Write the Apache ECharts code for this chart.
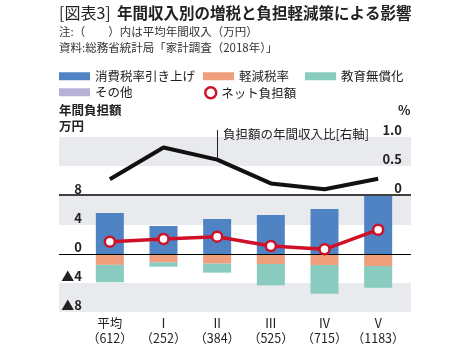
<!DOCTYPE html>
<html><head><meta charset="utf-8">
<script src="https://cdn.jsdelivr.net/npm/echarts@6/dist/echarts.min.js"></script>
<style>html,body{margin:0;padding:0;background:#fff}#c{width:473px;height:357px}</style>
</head><body><div id="c"></div>
<script>
var categories = ['平均\n（612）','Ⅰ\n（252）','Ⅱ\n（384）','Ⅲ\n（525）','Ⅳ\n（715）','Ⅴ\n（1183）'];
var taxHike = [5.66, 3.86, 4.83, 5.38, 6.2, 8.0];
var reducedRate = [-1.5, -1.15, -1.33, -1.38, -1.52, -1.66];
var freeEducation = [-2.4, -0.6, -1.24, -2.94, -3.96, -3.0];
var others = [0, 0, 0, 0, 0, 0];
var netBurden = [1.7, 2.07, 2.39, 1.1, 0.65, 3.35];
var ratioPct = [0.27, 0.82, 0.61, 0.20, 0.10, 0.28];
var leftTicks = [-8, -4, 0, 4, 8];
var rightTicks = [0, 0.5, 1.0];

var FONT = '"Noto Sans CJK JP","Noto Sans",sans-serif';
var C_BLUE = '#5083c4', C_ORANGE = '#f09f7c', C_TEAL = '#89cbbf', C_LAV = '#b7b1d7', C_RED = '#cf1027', C_BAND = '#e8eaed';

var chart = echarts.init(document.getElementById('c'));
function lg(name, left, top, extra) {
  var d = Object.assign({name: name}, extra || {});
  return {data: [d], left: left, top: top, padding: 0, itemWidth: 31, itemHeight: 8, icon: 'rect',
    textStyle: {fontFamily: FONT, fontSize: 12.5, color: '#222', padding: [0,0,0,0]}, itemGap: 0};
}
var option = {
  animation: false,
  textStyle: {fontFamily: FONT},
  legend: [
    lg('消費税率引き上げ', 59, 70),
    lg('軽減税率', 203, 70),
    lg('教育無償化', 305, 70),
    lg('その他', 59, 86),
    Object.assign(lg('ネット負担額', 204, 86, {icon: 'circle', itemStyle: {color: '#fff', borderColor: C_RED, borderWidth: 2.5}}), {itemWidth: 11, itemHeight: 11})
  ],
  grid: [
    {left: 59, width: 352, top: 196, height: 116},
    {left: 59, width: 352, top: 137, height: 58},
    {left: 83, width: 322, top: 196, height: 116},
    {left: 83, width: 322, top: 137, height: 58}
  ],
  xAxis: [
    {gridIndex: 0, type: 'value', min: 0, max: 1, show: false},
    {gridIndex: 1, type: 'value', min: 0, max: 1, show: false},
    {gridIndex: 2, type: 'category', data: categories, axisLine: {show: false}, axisTick: {show: false}, z: 10,
      axisLabel: {interval: 0, hideOverlap: false, fontFamily: FONT, fontSize: 12.5, color: '#222', lineHeight: 15, margin: 4}},
    {gridIndex: 3, type: 'category', data: categories, show: false}
  ],
  yAxis: [
    {gridIndex: 0, type: 'value', min: -8, max: 8, show: false},
    {gridIndex: 1, type: 'value', min: 0, max: 1, show: false},
    {gridIndex: 2, type: 'value', min: leftTicks[0], max: leftTicks[leftTicks.length-1], interval: 4, z: 10,
      axisLine: {show: false}, axisTick: {show: false}, splitLine: {show: false},
      axisLabel: {showMinLabel: true, showMaxLabel: true, hideOverlap: false, fontFamily: FONT, fontSize: 13, fontWeight: 'bold', color: '#222', margin: 1, verticalAlign: 'bottom', lineHeight: 14,
        formatter: function (v) { return v < 0 ? '▲' + (-v) : String(v); }}},
    {gridIndex: 3, type: 'value', position: 'right', min: rightTicks[0], max: rightTicks[rightTicks.length-1], interval: 0.5, z: 10,
      axisLine: {show: false}, axisTick: {show: false}, splitLine: {show: false},
      axisLabel: {showMinLabel: true, showMaxLabel: true, hideOverlap: false, fontFamily: FONT, fontSize: 13, fontWeight: 'bold', color: '#222', margin: -3, align: 'right', verticalAlign: 'bottom', lineHeight: 14,
        formatter: function (v) { return v === 0 ? '0' : v.toFixed(1); }}}
  ],
  series: [
    {type: 'line', xAxisIndex: 0, yAxisIndex: 0, data: [[0, 0]], symbol: 'none', lineStyle: {width: 0}, silent: true, z: 0,
      markArea: {silent: true, itemStyle: {color: C_BAND}, data: [[{yAxis: 4}, {yAxis: 8}], [{yAxis: -8}, {yAxis: -4}]]}},
    {type: 'line', xAxisIndex: 1, yAxisIndex: 1, data: [[0, 0]], symbol: 'none', lineStyle: {width: 0}, silent: true, z: 0,
      markArea: {silent: true, itemStyle: {color: C_BAND}, data: [[{yAxis: 0.5}, {yAxis: 1.0}]]}},
    {name: '消費税率引き上げ', type: 'bar', xAxisIndex: 2, yAxisIndex: 2, stack: 'a', barWidth: 28, data: taxHike, itemStyle: {color: C_BLUE}},
    {name: '軽減税率', type: 'bar', xAxisIndex: 2, yAxisIndex: 2, stack: 'a', barWidth: 28, data: reducedRate, itemStyle: {color: C_ORANGE}},
    {name: '教育無償化', type: 'bar', xAxisIndex: 2, yAxisIndex: 2, stack: 'a', barWidth: 28, data: freeEducation, itemStyle: {color: C_TEAL}},
    {name: 'その他', type: 'bar', xAxisIndex: 2, yAxisIndex: 2, stack: 'a', barWidth: 28, data: others, itemStyle: {color: C_LAV}},
    {type: 'line', xAxisIndex: 0, yAxisIndex: 0, data: [[0, 0]], symbol: 'none', lineStyle: {width: 0}, silent: true, z: 5,
      markLine: {silent: true, symbol: 'none', label: {show: false}, lineStyle: {color: '#000', width: 1, type: 'solid'}, data: [{yAxis: 0}]}},
    {type: 'line', xAxisIndex: 1, yAxisIndex: 1, data: [[0, 0]], symbol: 'none', lineStyle: {width: 0}, silent: true, z: 5,
      markLine: {silent: true, symbol: 'none', label: {show: false}, lineStyle: {color: '#000', width: 1.5, type: 'solid'}, data: [{yAxis: 0}]}},
    {name: 'ネット負担額', type: 'line', xAxisIndex: 2, yAxisIndex: 2, data: netBurden, z: 6,
      lineStyle: {color: C_RED, width: 3.5}, symbol: 'circle', symbolSize: 10,
      itemStyle: {color: '#fff', borderColor: C_RED, borderWidth: 2.5}},
    {name: '負担額の年間収入比', type: 'line', xAxisIndex: 3, yAxisIndex: 3, data: ratioPct, z: 6,
      lineStyle: {color: '#111', width: 4}, symbol: 'none'}
  ],
  graphic: [
    {type: 'text', z: 100, left: 59, top: 5, style: {text: '[図表3]', font: 'normal 16px ' + FONT, fill: '#222'}},
    {type: 'text', z: 100, left: 117, top: 5, style: {text: '年間収入別の増税と負担軽減策による影響', font: 'bold 15.5px ' + FONT, fill: '#222'}},
    {type: 'text', z: 100, left: 59, top: 26, style: {text: '注:（　　）内は平均年間収入（万円）', font: 'normal 11.5px ' + FONT, fill: '#333'}},
    {type: 'text', z: 100, left: 59, top: 42, style: {text: '資料:総務省統計局「家計調査（2018年）」', font: 'normal 11.5px ' + FONT, fill: '#333'}},
    {type: 'text', z: 100, left: 59, top: 104, style: {text: '年間負担額', font: 'bold 12.5px ' + FONT, fill: '#222'}},
    {type: 'text', z: 100, left: 59, top: 120, style: {text: '万円', font: 'bold 12.5px ' + FONT, fill: '#222'}},
    {type: 'text', z: 100, left: 398, top: 104, style: {text: '%', font: 'bold 13px ' + FONT, fill: '#222'}},
    {type: 'text', z: 100, left: 223, top: 128, style: {text: '負担額の年間収入比[右軸]', font: 'normal 12.5px ' + FONT, fill: '#222'}},
    {type: 'line', z: 100, shape: {x1: 217.5, y1: 130, x2: 217.5, y2: 159}, style: {stroke: '#222', lineWidth: 1}}
  ]
};
chart.setOption(option);
</script></body></html>
